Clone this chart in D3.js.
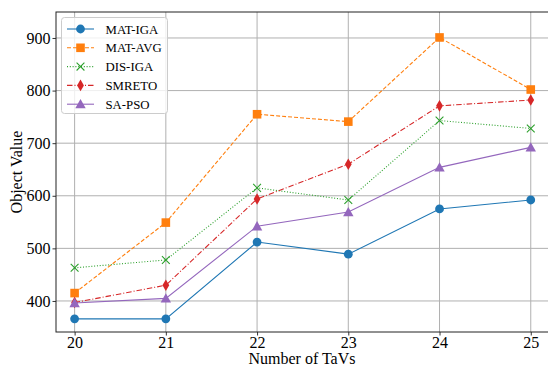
<!DOCTYPE html>
<html>
<head>
<meta charset="utf-8">
<script src="https://cdn.jsdelivr.net/npm/d3@7"></script>
<style>
  html, body { margin: 0; padding: 0; background: #fff; }
  svg { display: block; font-family: "Liberation Serif", "Times New Roman", serif; }
</style>
</head>
<body>
<svg id="chart" width="548" height="367"></svg>
<script>
// Number of TaVs on the x axis
const tavs = [20, 21, 22, 23, 24, 25];
const yTicks = [400, 500, 600, 700, 800, 900];

// Objective value per algorithm
const matIga  = [366, 366, 512, 489, 575, 592];
const matAvg  = [415, 549, 755, 741, 901, 802];
const disIga  = [463, 478, 615, 592, 743, 728];
const smreto  = [397, 430, 594, 660, 771, 782];
const saPso   = [396, 405, 542, 569, 654, 692];

const seriesNames = ["MAT-IGA", "MAT-AVG", "DIS-IGA", "SMRETO", "SA-PSO"];
const seriesValues = [matIga, matAvg, disIga, smreto, saPso];

const styles = [
  { color: "#1f77b4", dash: null,        marker: "circle" },
  { color: "#ff7f0e", dash: "4,2",       marker: "square" },
  { color: "#2ca02c", dash: "1,1.8",     marker: "x" },
  { color: "#d62728", dash: "5.5,2,1,2", marker: "thin_diamond" },
  { color: "#9467bd", dash: null,        marker: "triangle" }
];

const serif = "Liberation Serif, Times New Roman, serif";
const svg = d3.select("#chart");
const plot = { left: 56, right: 549, top: 12, bottom: 332 };

const x = d3.scaleLinear().domain([19.796, 25.2]).range([plot.left, plot.right]);
const y = d3.scaleLinear().domain([341, 949.4]).range([plot.bottom, plot.top]);

// grid
const grid = svg.append("g");
grid.selectAll("line.v").data(tavs).enter().append("line")
  .attr("x1", d => x(d)).attr("x2", d => x(d))
  .attr("y1", plot.top).attr("y2", plot.bottom)
  .attr("stroke", "#b0b0b0").attr("stroke-width", 1);
grid.selectAll("line.h").data(yTicks).enter().append("line")
  .attr("x1", plot.left).attr("x2", plot.right)
  .attr("y1", d => y(d)).attr("y2", d => y(d))
  .attr("stroke", "#b0b0b0").attr("stroke-width", 1);

// axes
const xAxis = d3.axisBottom(x).tickValues(tavs).tickSize(3.5).tickPadding(1.5).tickFormat(d3.format("d"));
const yAxis = d3.axisLeft(y).tickValues(yTicks).tickSize(3.5).tickPadding(2).tickFormat(d3.format("d"));

const gx = svg.append("g").attr("transform", `translate(0,${plot.bottom})`).call(xAxis);
const gy = svg.append("g").attr("transform", `translate(${plot.left},0)`).call(yAxis);
[gx, gy].forEach(g => {
  g.select(".domain").remove();
  g.attr("font-family", serif).attr("font-size", 16);
  g.selectAll("text").attr("fill", "#000");
  g.selectAll("line").attr("stroke", "#000").attr("stroke-width", 0.8);
});

// spines
svg.append("rect")
  .attr("x", plot.left).attr("y", plot.top)
  .attr("width", plot.right - plot.left).attr("height", plot.bottom - plot.top)
  .attr("fill", "none").attr("stroke", "#222").attr("stroke-width", 1);

// axis labels
svg.append("text")
  .attr("x", 302).attr("y", 364)
  .attr("text-anchor", "middle").attr("font-size", 16)
  .text("Number of TaVs");
svg.append("text")
  .attr("transform", `translate(22,${(plot.top + plot.bottom) / 2}) rotate(-90)`)
  .attr("text-anchor", "middle").attr("font-size", 16)
  .text("Object Value");

// markers
function drawMarker(g, type, color, cx, cy) {
  if (type === "circle") {
    g.append("circle").attr("cx", cx).attr("cy", cy).attr("r", 4.4).attr("fill", color);
  } else if (type === "square") {
    const h = 4.3;
    g.append("rect").attr("x", cx - h).attr("y", cy - h).attr("width", 2 * h).attr("height", 2 * h).attr("fill", color);
  } else if (type === "x") {
    const h = 3.9;
    g.append("path").attr("d", `M${cx - h},${cy - h}L${cx + h},${cy + h}M${cx - h},${cy + h}L${cx + h},${cy - h}`)
      .attr("stroke", color).attr("stroke-width", 1.1).attr("fill", "none");
  } else if (type === "thin_diamond") {
    const w = 3.4, h = 5.8;
    g.append("path").attr("d", `M${cx},${cy - h}L${cx + w},${cy}L${cx},${cy + h}L${cx - w},${cy}Z`).attr("fill", color);
  } else if (type === "triangle") {
    const h = 5.2;
    g.append("path").attr("d", `M${cx},${cy - h}L${cx + h},${cy + h * 0.8}L${cx - h},${cy + h * 0.8}Z`).attr("fill", color);
  }
}

const line = d3.line().x((d, i) => x(tavs[i])).y(d => y(d));
const plotArea = svg.append("g");
seriesValues.forEach((vals, k) => {
  const st = styles[k];
  plotArea.append("path").datum(vals)
    .attr("d", line).attr("fill", "none")
    .attr("stroke", st.color).attr("stroke-width", 1.1)
    .attr("stroke-dasharray", st.dash);
  vals.forEach((v, i) => drawMarker(plotArea, st.marker, st.color, x(tavs[i]), y(v)));
});

// legend
const lg = svg.append("g");
lg.append("rect")
  .attr("x", 61.5).attr("y", 17.5).attr("width", 106).attr("height", 96).attr("rx", 3)
  .attr("fill", "#fff").attr("fill-opacity", 0.8)
  .attr("stroke", "#ccc").attr("stroke-width", 1);
seriesNames.forEach((name, k) => {
  const st = styles[k];
  const cy = 29 + k * 18.8;
  lg.append("line").attr("x1", 67).attr("x2", 94).attr("y1", cy).attr("y2", cy)
    .attr("stroke", st.color).attr("stroke-width", 1.1).attr("stroke-dasharray", st.dash);
  drawMarker(lg, st.marker, st.color, 80.5, cy);
  lg.append("text").attr("x", 105.5).attr("y", cy + 4.5).attr("font-size", 12.8).text(name);
});
</script>
</body>
</html>
